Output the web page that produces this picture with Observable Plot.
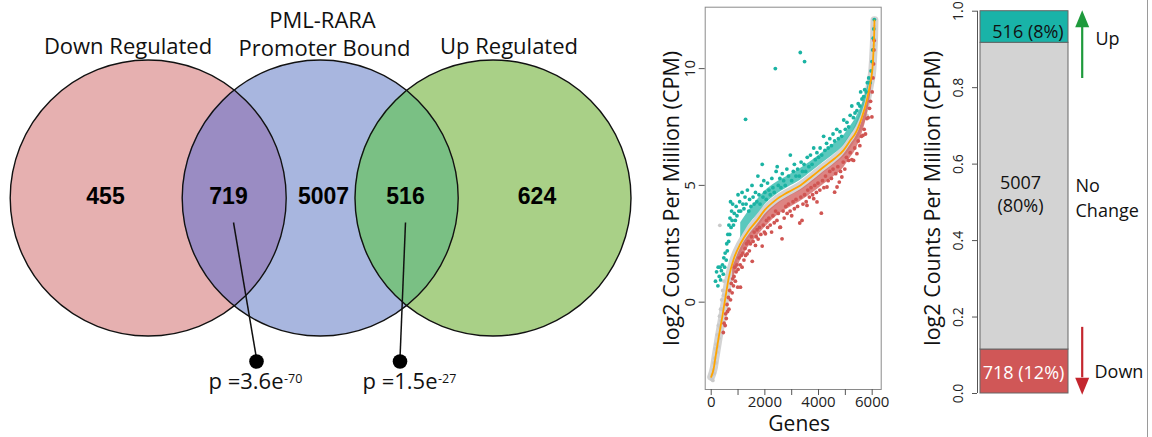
<!DOCTYPE html>
<html><head><meta charset="utf-8">
<script src="https://cdn.jsdelivr.net/npm/d3@7"></script>
<script src="https://cdn.jsdelivr.net/npm/@observablehq/plot@0.6"></script>
<style>
html,body{margin:0;padding:0;background:#fff;}
#wrap{position:relative;width:1152px;height:437px;overflow:hidden;background:#fff;font-family:"Open Sans",sans-serif;}
#wrap svg{position:absolute;top:0;}
#edge{position:absolute;left:1147px;top:0;width:1px;height:437px;background:#9a9a9a;}
</style></head><body><div id="wrap"><div id="edge"></div></div>
<script>
// ---------------- DATA ----------------
// Venn diagram
const setNames = ["Down Regulated", "PML-RARA\nPromoter Bound", "Up Regulated"];
const regionCounts = [455, 719, 5007, 516, 624];
const pMantissa = ["3.6", "1.5"];
const pExponent = ["-70", "-27"];

// Scatter (genes ranked by expression, log2 CPM)
const trendCurve = [[0,-3.2],[100,-2.8],[160,-2.35],[280,-1.5],[410,-0.65],[530,0.2],[655,1.05],[840,1.85],[1090,2.5],[1400,3.07],[1710,3.5],[2000,3.95],[2390,4.36],[2850,4.7],[3320,5.0],[3750,5.38],[4190,5.79],[4600,6.15],[4930,6.5],[5200,6.95],[5370,7.22],[5620,7.93],[5800,8.65],[5925,9.36],[6010,10.0],[6050,10.79],[6075,11.5],[6085,12.07]];
const grayGenes = [[20,-3.3],[40,-3.1],[60,-3.35],[80,-2.9],[100,-2.6],[110,-3.05],[130,-2.4],[150,-2.0],[170,-2.6],[190,-1.8],[210,-2.15],[230,-1.4],[250,-1.9],[270,-1.0],[290,-1.55],[310,-0.6],[330,-1.1],[350,-0.3],[370,-0.8],[390,0.1],[410,-0.3],[430,0.5],[322,3.29],[460,0.3],[480,0.9],[5803,8.0],[6080,11.8],[6070,11.0]];
const upBand = [[1100,2.75,3.4],[1400,3.3,3.9],[1700,3.72,4.35],[2000,4.17,4.75],[2400,4.58,5.1],[2850,4.91,5.4],[3300,5.2,5.7],[3750,5.59,6.05],[4200,6.0,6.45],[4600,6.35,6.8],[4950,6.73,7.15],[5200,7.15,7.55],[5400,7.5,7.9],[5620,8.1,8.45],[5800,8.82,9.1],[5925,9.5,9.7]];
const downBand = [[800,0.95,1.48],[1100,1.8,2.32],[1400,2.38,2.87],[1700,2.8,3.29],[2000,3.2,3.75],[2400,3.65,4.17],[2850,4.0,4.5],[3300,4.3,4.79],[3750,4.65,5.18],[4200,5.05,5.6],[4600,5.4,5.95],[4950,5.78,6.33],[5200,6.2,6.75],[5400,6.55,7.1],[5620,7.2,7.73],[5800,7.95,8.45],[5925,8.75,9.16],[6010,9.45,9.8]];
const upGenes = [[160,0.9],[200,1.3],[250,0.7],[260,1.5],[300,1.1],[330,1.5],[350,0.95],[380,1.35],[420,1.6],[450,1.2],[470,1.9],[500,1.5],[520,2.1],[560,1.8],[580,2.5],[600,2.2],[620,2.9],[650,2.6],[660,3.3],[690,2.9],[700,3.6],[720,4.3],[740,3.2],[760,3.9],[780,3.5],[800,4.2],[830,3.3],[860,3.8],[900,3.5],[930,4.1],[960,3.7],[1000,4.6],[1030,3.9],[1060,4.3],[1100,3.9],[1150,4.7],[1180,4.2],[1220,4.0],[1260,4.5],[1280,7.83],[1300,4.2],[1350,4.8],[1400,3.9],[1430,4.4],[1480,4.1],[1520,5.0],[1560,4.5],[1600,4.2],[1650,4.7],[1700,4.3],[1740,5.4],[1780,4.6],[1820,4.2],[1870,5.0],[1900,5.9],[1930,4.5],[1960,5.2],[2000,4.7],[2050,4.4],[2100,5.1],[2150,4.8],[2200,4.6],[2260,5.3],[2300,4.9],[2350,4.7],[2390,10.0],[2420,5.6],[2460,5.8],[2500,5.0],[2560,5.3],[2600,4.9],[2650,5.5],[2700,5.2],[2760,5.0],[2820,5.7],[2880,5.4],[2950,6.3],[3000,5.2],[3060,5.6],[3100,5.9],[3160,5.4],[3220,5.7],[3280,5.4],[3320,10.69],[3350,6.0],[3400,5.6],[3480,10.3],[3460,5.9],[3520,5.6],[3580,6.2],[3640,5.8],[3700,6.3],[3760,5.9],[3820,6.6],[3880,6.1],[3940,6.4],[4000,6.2],[4060,6.6],[4120,6.3],[4190,7.1],[4240,6.5],[4300,6.8],[4360,6.6],[4420,7.0],[4480,6.7],[4540,7.2],[4600,6.9],[4680,7.4],[4740,7.0],[4800,7.3],[4860,7.1],[4940,7.8],[5000,7.4],[5060,7.7],[5120,7.5],[5180,8.0],[5240,8.4],[5300,7.9],[5360,8.1],[5430,8.2],[5480,8.5],[5540,8.4],[5570,9.0],[5620,8.7],[5680,8.8],[5720,9.1],[5780,9.0],[5820,9.4],[5870,9.6],[5920,9.4],[5960,9.9],[5990,10.3],[6020,10.8],[6040,11.3],[6060,11.7],[6080,12.1]];
const downGenes = [[450,-1.3],[480,-0.9],[520,-1.0],[540,-0.5],[560,-0.7],[590,-0.1],[610,-0.4],[640,0.2],[660,-0.3],[690,0.5],[720,0.1],[750,0.8],[780,0.4],[800,1.0],[830,0.7],[850,1.1],[880,1.5],[900,0.9],[930,1.3],[960,1.6],[990,0.64],[1000,1.4],[1040,1.9],[1080,1.6],[1090,0.64],[1120,2.0],[1150,1.5],[1180,2.1],[1220,1.8],[1260,2.3],[1280,2.0],[1320,2.5],[1340,2.07],[1380,2.6],[1420,2.2],[1460,2.5],[1500,2.8],[1530,1.75],[1560,2.6],[1600,3.0],[1650,2.43],[1680,2.8],[1710,3.1],[1750,2.7],[1800,3.2],[1850,2.9],[1900,2.4],[1940,3.3],[1980,3.0],[2020,2.93],[2060,3.5],[2100,3.2],[2150,3.6],[2200,3.3],[2250,3.0],[2300,3.7],[2350,3.4],[2400,3.9],[2450,3.5],[2500,3.8],[2560,3.2],[2580,3.21],[2640,2.71],[2680,3.9],[2720,3.6],[2780,4.1],[2830,3.8],[2880,4.2],[2940,3.9],[3000,3.7],[3050,4.3],[3100,4.0],[3160,4.4],[3220,4.1],[3300,3.39],[3340,4.5],[3385,3.5],[3420,4.2],[3480,4.6],[3540,4.3],[3570,4.14],[3600,4.8],[3660,4.5],[3720,4.9],[3780,4.6],[3820,4.43],[3860,5.0],[3920,4.7],[3943,4.29],[3980,5.1],[4050,4.8],[4104,3.81],[4150,5.2],[4200,4.9],[4260,5.4],[4315,4.93],[4360,5.2],[4420,5.6],[4480,5.3],[4540,5.7],[4600,4.71],[4640,5.5],[4690,4.93],[4720,5.8],[4774,5.14],[4820,5.6],[4870,5.36],[4920,6.0],[4980,5.7],[5040,6.2],[5121,6.07],[5180,6.4],[5240,6.1],[5307,6.07],[5350,6.6],[5431,6.36],[5480,6.9],[5540,6.7],[5600,7.1],[5654,7.14],[5700,7.4],[5750,7.2],[5803,7.86],[5850,7.9],[5900,8.3],[5940,8.6],[5989,7.93],[6000,9.0],[6030,9.6],[6050,10.2],[6065,10.8],[6075,11.2]];
const scatterXTicks = [0,1000,2000,3000,4000,5000,6000];
const scatterYTicks = [0,5,10];
const scatterYTitle = "log2 Counts Per Million (CPM)";
const scatterXTitle = "Genes";

// Stacked bar
const barCategories = ["Down", "No\nChange", "Up"];
const barCounts = [718, 5007, 516];
const barPercents = ["12%", "80%", "8%"];
const barTicks = [0, 0.2, 0.4, 0.6, 0.8, 1.0];
const barYTitle = "log2 Counts Per Million (CPM)";

// ---------------- LAYOUT / STYLE ----------------
const FONT = "Open Sans";
const wrap = document.getElementById("wrap");
function place(svg, left) { svg.style.left = left + "px"; wrap.appendChild(svg); }

// ---- Venn ----
const V = {cx: [147.7, 319.7, 492.5], cy: 197.5, r: 138};
const vennFill = ["#E6B0B0", "#A8B6DF", "#A9D087"];
const lensFill = ["#9A8CC3", "#7AC084"];
const regionX = [105, 228, 323, 405, 536.5];
const circles = setNames.map((name, i) => ({name, cx: V.cx[i], fill: vennFill[i]}));
function lens(a, b, id) {
  const pts = [], x0 = V.cx[b] - V.r, x1 = V.cx[a] + V.r, n = 120;
  for (let k = 0; k <= n; k++) {
    const x = x0 + (x1 - x0) * k / n;
    const h = Math.min(Math.sqrt(Math.max(0, V.r ** 2 - (x - V.cx[a]) ** 2)), Math.sqrt(Math.max(0, V.r ** 2 - (x - V.cx[b]) ** 2)));
    pts.push({x, y1: V.cy - h, y2: V.cy + h, id});
  }
  return pts;
}
const lenses = [lens(0, 1, 0), lens(1, 2, 1)];
const leaders = [
  {x1: 233, y1: 222, x2: 256, y2: 358, dot: 256, endX: 283},
  {x1: 405, y1: 222, x2: 399.5, y2: 358, dot: 399.5, endX: 437}
].map((d, i) => ({...d, main: "p =" + pMantissa[i] + "e", sup: pExponent[i]}));
const titleRows = [
  {t: setNames[0], x: 127.5, y: 46},
  {t: setNames[1].split("\n")[0], x: 322, y: 20},
  {t: setNames[1].split("\n")[1], x: 324, y: 48},
  {t: setNames[2], x: 508.5, y: 46}
];
const regions = regionCounts.map((c, i) => ({c, x: regionX[i]}));

const venn = Plot.plot({
  width: 640, height: 437, margin: 0,
  x: {domain: [0, 640], range: [0, 640], axis: null},
  y: {domain: [0, 437], range: [0, 437], axis: null},
  color: {type: "identity"},
  style: {background: "none", fontFamily: FONT, overflow: "visible"},
  marks: [
    Plot.dot(circles, {x: "cx", y: () => V.cy, r: V.r, fill: "fill", stroke: "none"}),
    ...lenses.map((L, i) => Plot.areaY(L, {x: "x", y1: "y1", y2: "y2", fill: lensFill[i]})),
    Plot.dot(circles, {x: "cx", y: () => V.cy, r: V.r, fill: "none", stroke: "#111", strokeWidth: 1.4}),
    Plot.link(leaders, {x1: "x1", y1: "y1", x2: "x2", y2: "y2", stroke: "#111", strokeWidth: 1.5}),
    Plot.dot(leaders, {x: "dot", y: () => 361, r: 7.3, fill: "#000"}),
    Plot.text(leaders, {x: "endX", y: () => 381, text: "main", textAnchor: "end", fontSize: 22, fill: "#111"}),
    Plot.text(leaders, {x: d => d.endX + 0.5, y: () => 378.5, text: "sup", textAnchor: "start", fontSize: 12.5, fill: "#111"}),
    Plot.text(titleRows, {x: "x", y: "y", text: "t", fontSize: 22, fill: "#111"}),
    Plot.text(regions, {x: "x", y: () => 196, text: d => String(d.c), fontSize: 23, fontWeight: "bold", fontFamily: "Liberation Sans", fill: "#000"})
  ]
});
place(venn, 0);

// ---- Scatter ----
const teal = "#1AB3A3", red = "#D05552";
const sc = Plot.plot({
  width: 260, height: 437,
  marginLeft: 64.7, marginRight: 19.3, marginTop: 6.7, marginBottom: 48,
  x: {domain: [-224, 6336]},
  y: {domain: [-3.74, 12.63]},
  style: {background: "none", fontFamily: FONT, overflow: "visible", color: "#222"},
  marks: [
    Plot.line(trendCurve, {x: d => d[0], y: d => d[1], stroke: "#d3d3d3", strokeWidth: 8, curve: "monotone-x"}),
    Plot.dot(grayGenes, {x: d => d[0], y: d => d[1], r: 1.9, fill: "#c9c9c9"}),
    Plot.areaY(upBand, {x: d => d[0], y1: d => d[1], y2: d => d[2], fill: teal, fillOpacity: 0.72, curve: "monotone-x"}),
    Plot.areaY(downBand, {x: d => d[0], y1: d => d[1], y2: d => d[2], fill: red, fillOpacity: 0.72, curve: "monotone-x"}),
    Plot.dot(upGenes, {x: d => d[0], y: d => d[1], r: 1.9, fill: teal}),
    Plot.dot(downGenes, {x: d => d[0], y: d => d[1], r: 1.9, fill: red}),
    Plot.line(trendCurve, {x: d => d[0], y: d => d[1], stroke: "#FFA500", strokeWidth: 1.8, curve: "monotone-x"}),
    Plot.frame({stroke: "#8a8a8a"}),
    Plot.axisY({ticks: scatterYTicks, tickSize: 6, tickFormat: () => "", label: null, stroke: "#555"}),
    Plot.text(scatterYTicks, {y: d => d, text: d => String(d), frameAnchor: "left", textAnchor: "middle", lineAnchor: "middle", dx: -15, rotate: -90, fontSize: 15, fill: "#222"}),
    Plot.axisX({ticks: scatterXTicks, tickSize: 6, tickPadding: 1, tickFormat: d => d % 2000 === 0 ? String(d) : "", label: null, fontSize: 15, stroke: "#555", fill: "#222"}),
    Plot.text([scatterYTitle], {frameAnchor: "left", textAnchor: "middle", lineAnchor: "middle", dx: -33, rotate: -90, fontSize: 21.5, fill: "#111"}),
    Plot.text([scatterXTitle], {frameAnchor: "bottom", textAnchor: "middle", lineAnchor: "middle", dy: 35, dx: 6, fontSize: 21, fill: "#111"})
  ]
});
place(sc, 640);

// ---- Stacked bar ----
const barColors = ["#D05757", "#D3D3D3", "#19B3A8"];
const total = d3.sum(barCounts);
let acc = 0;
const barRows = barCategories.map((cat, i) => {
  const y1 = acc / total; acc += barCounts[i];
  return {cat, i, count: barCounts[i], pct: barPercents[i], y1, y2: acc / total};
});
const insideDx = [-1, -4, 3.5], insideDy = [0, -3, 3];
const sideDx = [26, 7, 27], sideDy = [-1, 0, 10];
const headUp = {draw(ctx) { ctx.moveTo(0, -17); ctx.lineTo(7, 0); ctx.lineTo(-7, 0); ctx.closePath(); }};
const headDown = {draw(ctx) { ctx.moveTo(0, 17); ctx.lineTo(7, 0); ctx.lineTo(-7, 0); ctx.closePath(); }};
const arrows = [
  {from: 0.824, to: 0.958, color: "#1E9A3C", head: headUp},
  {from: 0.173, to: 0.041, color: "#C4262E", head: headDown}
];
const bp = Plot.plot({
  width: 252, height: 437,
  marginLeft: 77, marginRight: 84, marginTop: 10.7, marginBottom: 44,
  x: {domain: [0, 1], range: [80, 168], axis: null},
  y: {domain: [0, 1]},
  style: {background: "none", fontFamily: FONT, overflow: "visible", color: "#222"},
  marks: [
    Plot.rect(barRows, {x1: 0, x2: 1, y1: "y1", y2: "y2", fill: d => barColors[d.i], stroke: "#666", strokeWidth: 1}),
    Plot.ruleX([0], {y1: 0, y2: 1, dx: -3, stroke: "#555"}),
    Plot.axisY({ticks: barTicks, tickSize: 5, tickFormat: () => "", label: null, stroke: "#555"}),
    Plot.text(barTicks, {y: d => d, text: d => d.toFixed(1), frameAnchor: "left", textAnchor: "middle", lineAnchor: "middle", dx: -19, rotate: -90, fontSize: 14, fill: "#222"}),
    Plot.text([barYTitle], {frameAnchor: "left", textAnchor: "middle", lineAnchor: "middle", dx: -44, dy: -4, rotate: -90, fontSize: 21.5, fill: "#111"}),
    ...barRows.map(r => Plot.text([r], {
      x: 0.5, y: d => (d.y1 + d.y2) / 2, dx: insideDx[r.i], dy: insideDy[r.i],
      text: d => d.i === 1 ? `${d.count}\n(${d.pct})` : `${d.count} (${d.pct})`,
      fill: r.i === 0 ? "#fff" : "#111", fontSize: 18, lineHeight: 1.3
    })),
    ...barRows.map(r => Plot.text([r], {
      x: 1, y: d => (d.y1 + d.y2) / 2, dx: sideDx[r.i], dy: sideDy[r.i],
      text: "cat", textAnchor: "start", fill: "#111", fontSize: 18, lineHeight: 1.38
    })),
    ...arrows.map(a => Plot.ruleX([a], {x: 1, y1: "from", y2: "to", dx: 13.7, stroke: a.color, strokeWidth: 2.2})),
    ...arrows.map(a => Plot.dot([a], {x: 1, y: "to", dx: 13.7, symbol: a.head, r: 5, fill: a.color, stroke: "none"}))
  ]
});
place(bp, 900);
</script></body></html>
